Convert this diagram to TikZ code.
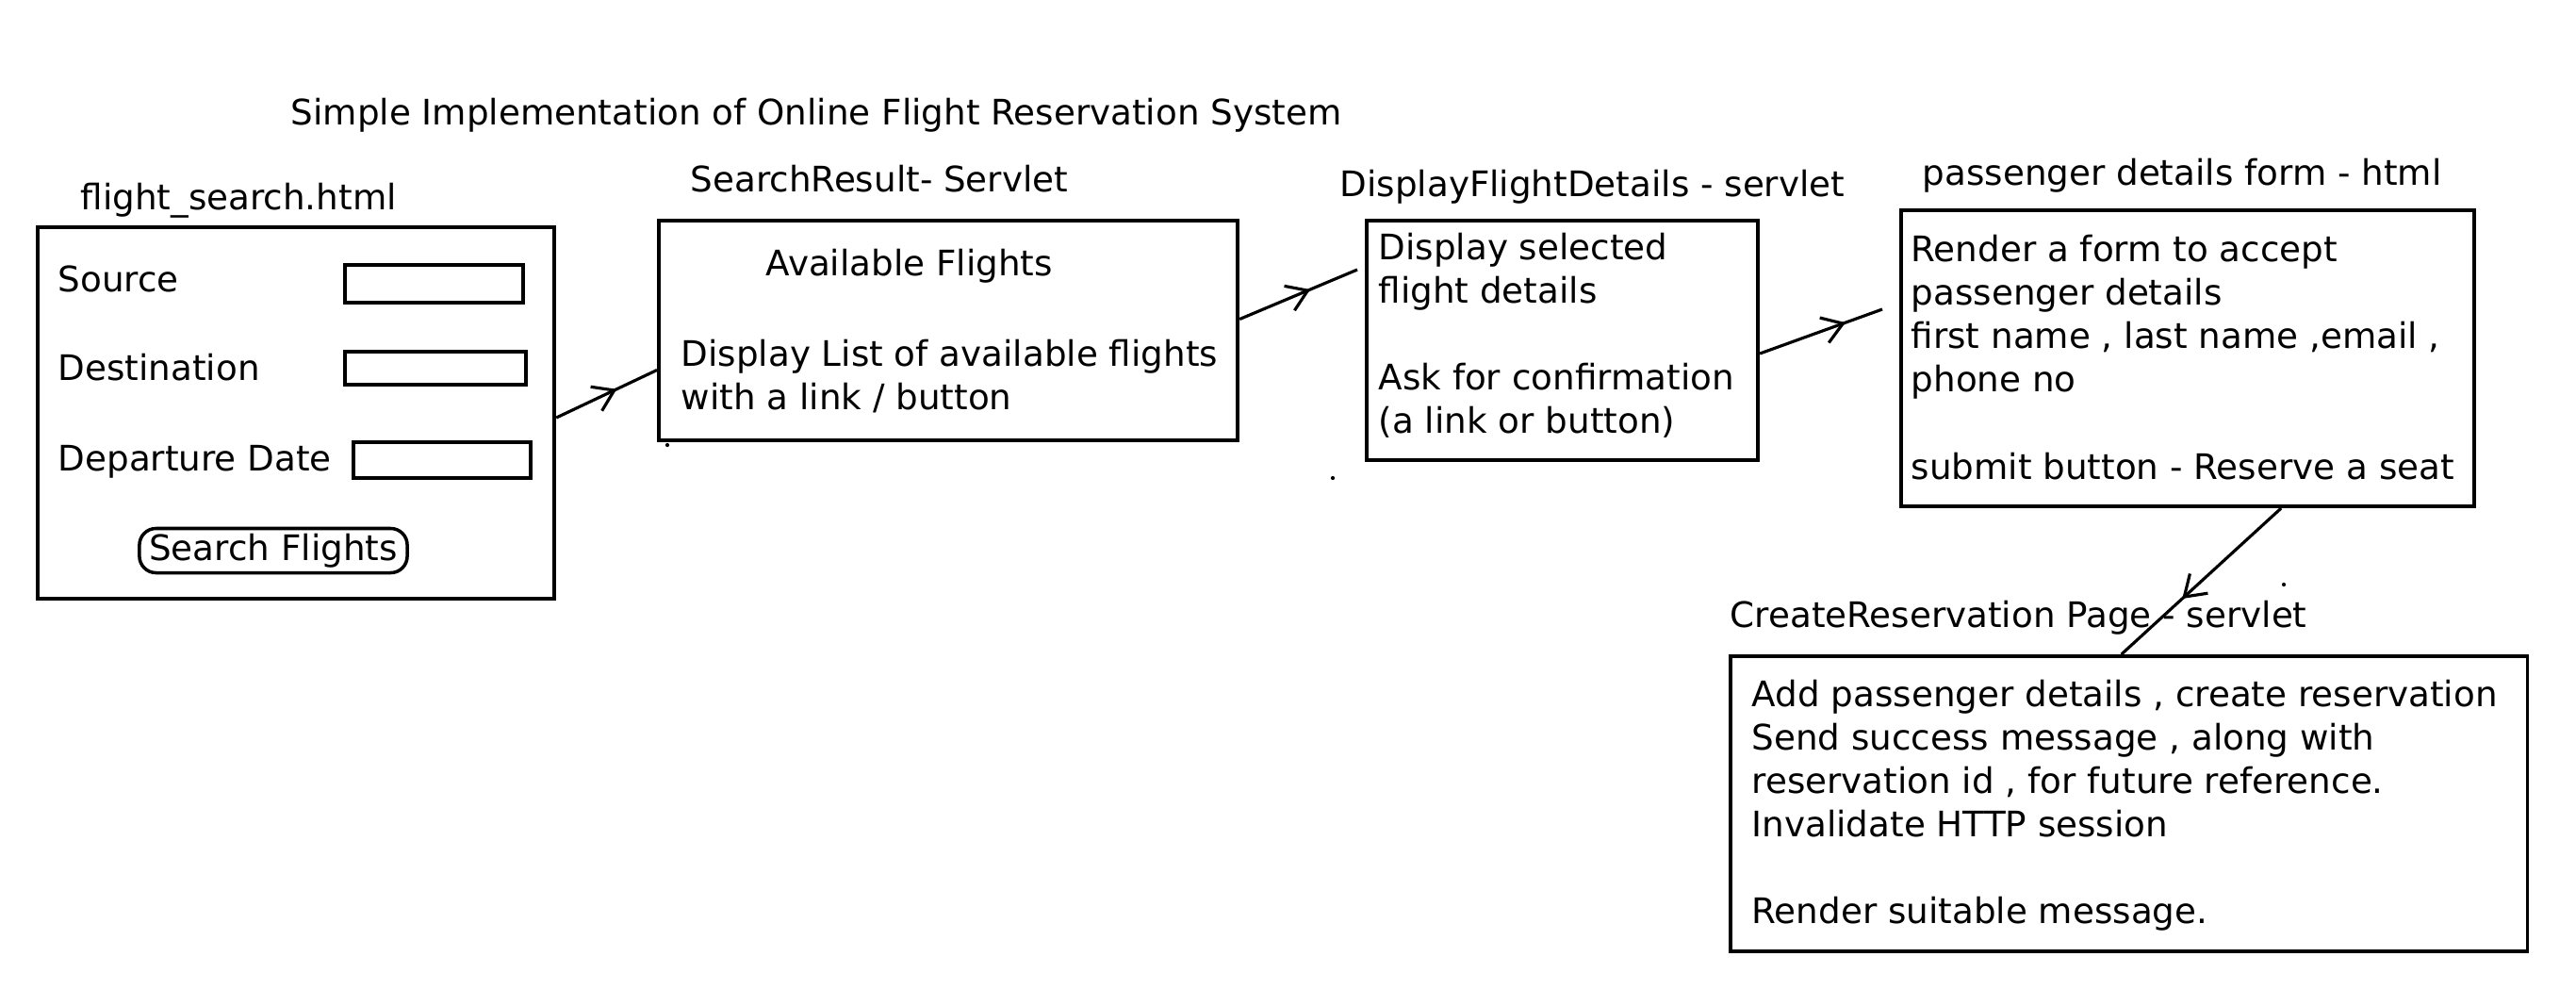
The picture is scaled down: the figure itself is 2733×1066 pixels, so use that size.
\documentclass[tikz,border=0pt]{standalone}
\usepackage{fontspec}
\setmainfont{DejaVu Sans}
\usetikzlibrary{arrows.meta,calc,decorations.markings}
\definecolor{SketchInk}{RGB}{0,0,0}

\begin{document}
\begin{tikzpicture}[x=0.01cm,y=-0.01cm,font=\fontsize{10.6}{13.1}\selectfont,
    page/.style={draw=SketchInk,line width=1.1pt,anchor=north west,inner sep=0pt},
    field/.style={draw=SketchInk,line width=1pt,anchor=north west,inner sep=0pt},
    button/.style={draw=SketchInk,line width=1pt,rounded corners=5pt,inner sep=0pt,
      minimum width=2.84cm,minimum height=0.47cm},
    txt/.style={anchor=base west,inner sep=0pt,text=SketchInk},
    para/.style={anchor=west,align=left,inner sep=0pt,text=SketchInk},
    flow/.style={draw=SketchInk,line width=0.9pt,postaction={decorate},
      decoration={markings,mark=at position #1 with {\arrow{Straight Barb[length=6pt,width=8pt]}}}}]
    \useasboundingbox (0,0) rectangle (2733,1066);
    \node[txt] (title) at (308,132) {Simple Implementation of Online Flight Reservation System};

    % search form page
    \node[txt] (searchlbl) at (85,222) {flight\_search.html};
    \node[page,minimum width=5.48cm,minimum height=3.94cm] (search) at (38,239) {};
    \node[txt] (srclbl) at (61,309) {Source};
    \node[field,minimum width=1.89cm,minimum height=0.40cm] (srcbox) at (364,279) {};
    \node[txt] (dstlbl) at (61,403) {Destination};
    \node[field,minimum width=1.92cm,minimum height=0.35cm] (dstbox) at (364,371) {};
    \node[txt] (datelbl) at (61,499) {Departure Date};
    \node[field,minimum width=1.88cm,minimum height=0.38cm] (datebox) at (373,467) {};
    \node[button] (go) at (290,584) {Search Flights};

    % servlets and pages
    \node[txt] (resultlbl) at (732,203) {SearchResult- Servlet};
    \node[page,minimum width=6.14cm,minimum height=2.33cm] (result) at (697,232) {};
    \node[txt] (resulthead) at (812,292) {Available Flights};
    \node[para] (resulttxt) at (722,399) {Display List of available flights\\with a link / button};

    \node[txt] (detailslbl) at (1421,208) {DisplayFlightDetails - servlet};
    \node[page,minimum width=4.15cm,minimum height=2.54cm] (details) at (1448,232) {};
    \node[para] (detailstxt) at (1462,356) {Display selected\\flight details\\[13.1pt]Ask for confirmation\\(a link or button)};

    \node[txt] (formlbl) at (2039,196) {passenger details form - html};
    \node[page,minimum width=6.08cm,minimum height=3.14cm] (form) at (2015,221) {};
    \node[para] (formtxt) at (2027,379) {Render a form to accept\\passenger details\\first name , last name ,email ,\\phone no\\[13.1pt]submit button - Reserve a seat};

    \node[txt] (reservelbl) at (1835,665) {CreateReservation Page - servlet};
    \node[page,minimum width=8.45cm,minimum height=3.13cm] (reserve) at (1834,694) {};
    \node[para] (reservetxt) at (1858,854) {Add passenger details , create reservation\\Send success message , along with\\reservation id , for future reference.\\Invalidate HTTP session\\[13.1pt]Render suitable message.};

    % hand drawn arrows
    \draw[flow=0.6] ($(search.east)+(0,5)$) -- ($(result.west)+(0,42)$);
    \draw[flow=0.6] ($(result.east)+(0,-12)$) -- ($(details.west)+(-8,-75)$);
    \draw[flow=0.7] ($(details.east)+(0,14)$) -- ($(form.west)+(-18,-52)$);
    \draw[flow=0.62] ($(form.south)+(99,0)$) -- ($(reserve.north)+(-8,0)$);

    % stray pen dots
    \fill[SketchInk] (708,472) circle (0.6pt);
    \fill[SketchInk] (1414,507) circle (0.6pt);
    \fill[SketchInk] (2423,620) circle (0.6pt);
\end{tikzpicture}
\end{document}
